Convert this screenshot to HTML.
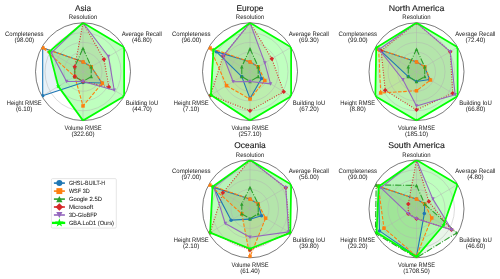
<!DOCTYPE html>
<html><head><meta charset="utf-8"><title>Radar charts</title>
<style>
html,body{margin:0;padding:0;background:#fff;}
body{width:500px;height:279px;overflow:hidden;}
svg{display:block;font-family:"Liberation Sans",sans-serif;}
text{stroke:none;text-rendering:geometricPrecision;}
.ttl{stroke:#000;stroke-width:0.1px;}
.lg{stroke:#000;stroke-width:0.04px;}
.wrap{will-change:transform;}
</style></head>
<body>
<div class="wrap"><svg width="500" height="279" viewBox="0 0 500 279">
<defs><filter id="tb" x="-10%" y="-30%" width="120%" height="160%"><feGaussianBlur stdDeviation="0.25"/></filter></defs>
<rect width="500" height="279" fill="#fff"/>
<clipPath id="c1"><ellipse cx="83" cy="71.7" rx="47.5" ry="48.9"/></clipPath>
<ellipse cx="83" cy="71.7" rx="47.5" ry="48.9" fill="#fff"/>
<g clip-path="url(#c1)">
<polygon points="83,61.92 91.23,66.81 101.92,82.95 83,82.46 42.69,95.66 42.69,47.74" fill="#1f77b4" fill-opacity="0.1"/>
<polygon points="83,61.92 91.23,66.81 102.33,83.19 83,105.93 74.77,76.59 42.69,47.74" fill="#ff7f0e" fill-opacity="0.1"/>
<polygon points="83,48.23 91.23,66.81 91.23,76.59 83,81.48 74.77,76.59 74.77,66.81" fill="#2ca02c" fill-opacity="0.1"/>
<polygon points="83,22.8 103.98,59.23 108.92,87.1 83,81.48 74.77,76.59 74.77,66.81" fill="#d62728" fill-opacity="0.1"/>
<polygon points="83,22.8 108.5,56.54 114.26,90.28 83,81.48 66.55,81.48 51.33,52.87" fill="#9467bd" fill-opacity="0.1"/>
<polygon points="83,22.8 124.14,47.25 124.14,96.15 83,120.6 58.32,86.37 49.27,51.65" fill="#00ff00" fill-opacity="0.25"/>
</g>
<g fill="none" stroke="#b0b0b0" stroke-width="0.45"><ellipse cx="83" cy="71.7" rx="9.5" ry="9.78"/><ellipse cx="83" cy="71.7" rx="19" ry="19.56"/><ellipse cx="83" cy="71.7" rx="28.5" ry="29.34"/><ellipse cx="83" cy="71.7" rx="38" ry="39.12"/><line x1="83" y1="71.7" x2="83" y2="22.8"/><line x1="83" y1="71.7" x2="124.14" y2="47.25"/><line x1="83" y1="71.7" x2="124.14" y2="96.15"/><line x1="83" y1="71.7" x2="83" y2="120.6"/><line x1="83" y1="71.7" x2="41.86" y2="96.15"/><line x1="83" y1="71.7" x2="41.86" y2="47.25"/></g>
<ellipse cx="83" cy="71.7" rx="47.5" ry="48.9" fill="none" stroke="#222" stroke-width="0.6"/>
<g clip-path="url(#c1)" stroke-linejoin="round">
<polyline points="83,61.92 91.23,66.81 101.92,82.95 83,82.46 42.69,95.66 42.69,47.74 83,61.92" fill="none" stroke="#1f77b4" stroke-width="1.1" stroke-linecap="square"/>
<circle cx="83" cy="61.92" r="1.75" fill="#1f77b4"/>
<circle cx="91.23" cy="66.81" r="1.75" fill="#1f77b4"/>
<circle cx="101.92" cy="82.95" r="1.75" fill="#1f77b4"/>
<circle cx="83" cy="82.46" r="1.75" fill="#1f77b4"/>
<circle cx="42.69" cy="95.66" r="1.75" fill="#1f77b4"/>
<circle cx="42.69" cy="47.74" r="1.75" fill="#1f77b4"/>
<polyline points="83,61.92 91.23,66.81 102.33,83.19 83,105.93 74.77,76.59 42.69,47.74 83,61.92" fill="none" stroke="#ff7f0e" stroke-width="1.1" stroke-dasharray="3.59 1.55"/>
<rect x="81.25" y="60.17" width="3.5" height="3.5" fill="#ff7f0e"/>
<rect x="89.48" y="65.06" width="3.5" height="3.5" fill="#ff7f0e"/>
<rect x="100.58" y="81.44" width="3.5" height="3.5" fill="#ff7f0e"/>
<rect x="81.25" y="104.18" width="3.5" height="3.5" fill="#ff7f0e"/>
<rect x="73.02" y="74.84" width="3.5" height="3.5" fill="#ff7f0e"/>
<rect x="40.94" y="45.99" width="3.5" height="3.5" fill="#ff7f0e"/>
<polyline points="83,48.23 91.23,66.81 91.23,76.59 83,81.48 74.77,76.59 74.77,66.81 83,48.23" fill="none" stroke="#2ca02c" stroke-width="1.1" stroke-dasharray="6.21 1.55 0.97 1.55"/>
<polygon points="83,46.48 84.75,49.98 81.25,49.98" fill="#2ca02c"/>
<polygon points="91.23,65.06 92.98,68.56 89.48,68.56" fill="#2ca02c"/>
<polygon points="91.23,74.84 92.98,78.34 89.48,78.34" fill="#2ca02c"/>
<polygon points="83,79.73 84.75,83.23 81.25,83.23" fill="#2ca02c"/>
<polygon points="74.77,74.84 76.52,78.34 73.02,78.34" fill="#2ca02c"/>
<polygon points="74.77,65.06 76.52,68.56 73.02,68.56" fill="#2ca02c"/>
<polyline points="83,22.8 103.98,59.23 108.92,87.1 83,81.48 74.77,76.59 74.77,66.81 83,22.8" fill="none" stroke="#d62728" stroke-width="1.1" stroke-dasharray="0.97 1.60"/>
<polygon points="83,20.53 85.28,22.8 83,25.08 80.72,22.8" fill="#d62728"/>
<polygon points="103.98,56.96 106.25,59.23 103.98,61.51 101.7,59.23" fill="#d62728"/>
<polygon points="108.92,84.83 111.19,87.1 108.92,89.38 106.64,87.1" fill="#d62728"/>
<polygon points="83,79.2 85.28,81.48 83,83.76 80.72,81.48" fill="#d62728"/>
<polygon points="74.77,74.31 77.05,76.59 74.77,78.87 72.5,76.59" fill="#d62728"/>
<polygon points="74.77,64.53 77.05,66.81 74.77,69.09 72.5,66.81" fill="#d62728"/>
<polyline points="83,22.8 108.5,56.54 114.26,90.28 83,81.48 66.55,81.48 51.33,52.87 83,22.8" fill="none" stroke="#9467bd" stroke-width="1.1" stroke-linecap="square"/>
<polygon points="83,24.55 84.75,21.05 81.25,21.05" fill="#9467bd"/>
<polygon points="108.5,58.29 110.25,54.79 106.75,54.79" fill="#9467bd"/>
<polygon points="114.26,92.03 116.01,88.53 112.51,88.53" fill="#9467bd"/>
<polygon points="83,83.23 84.75,79.73 81.25,79.73" fill="#9467bd"/>
<polygon points="66.55,83.23 68.3,79.73 64.8,79.73" fill="#9467bd"/>
<polygon points="51.33,54.62 53.08,51.12 49.58,51.12" fill="#9467bd"/>
<polyline points="83,22.8 124.14,47.25 124.14,96.15 83,120.6 58.32,86.37 49.27,51.65 83,22.8" fill="none" stroke="#00ff00" stroke-width="1.75" stroke-linecap="square"/>
<polygon points="83,20.3 82.44,22.03 80.62,22.03 82.09,23.1 81.53,24.82 83,23.75 84.47,24.82 83.91,23.1 85.38,22.03 83.56,22.03" fill="#00ff00"/>
<polygon points="124.14,44.75 123.57,46.48 121.76,46.48 123.23,47.55 122.67,49.27 124.14,48.2 125.61,49.27 125.04,47.55 126.51,46.48 124.7,46.48" fill="#00ff00"/>
<polygon points="124.14,93.65 123.57,95.38 121.76,95.38 123.23,96.45 122.67,98.17 124.14,97.1 125.61,98.17 125.04,96.45 126.51,95.38 124.7,95.38" fill="#00ff00"/>
<polygon points="83,118.1 82.44,119.83 80.62,119.83 82.09,120.9 81.53,122.62 83,121.55 84.47,122.62 83.91,120.9 85.38,119.83 83.56,119.83" fill="#00ff00"/>
<polygon points="58.32,83.87 57.76,85.6 55.94,85.6 57.41,86.67 56.85,88.39 58.32,87.32 59.79,88.39 59.23,86.67 60.7,85.6 58.88,85.6" fill="#00ff00"/>
<polygon points="49.27,49.15 48.71,50.88 46.89,50.88 48.36,51.95 47.8,53.67 49.27,52.61 50.74,53.67 50.18,51.95 51.65,50.88 49.83,50.88" fill="#00ff00"/>
</g>
<text filter="url(#tb)" x="83" y="19.3" font-size="6.4" text-anchor="middle" textLength="28.32" lengthAdjust="spacingAndGlyphs" fill="#1a1a1a">Resolution</text>
<text filter="url(#tb)" x="141.85" y="35.75" font-size="6.4" text-anchor="middle" textLength="40.15" lengthAdjust="spacingAndGlyphs" fill="#1a1a1a">Average Recall</text>
<text filter="url(#tb)" x="141.85" y="41.9" font-size="6.4" text-anchor="middle" textLength="19.75" lengthAdjust="spacingAndGlyphs" fill="#1a1a1a">(46.80)</text>
<text filter="url(#tb)" x="142" y="104.75" font-size="6.4" text-anchor="middle" textLength="32.59" lengthAdjust="spacingAndGlyphs" fill="#1a1a1a">Building IoU</text>
<text filter="url(#tb)" x="142" y="110.85" font-size="6.4" text-anchor="middle" textLength="19.75" lengthAdjust="spacingAndGlyphs" fill="#1a1a1a">(44.70)</text>
<text filter="url(#tb)" x="83" y="129.6" font-size="6.4" text-anchor="middle" textLength="37.19" lengthAdjust="spacingAndGlyphs" fill="#1a1a1a">Volume RMSE</text>
<text filter="url(#tb)" x="83" y="135.8" font-size="6.4" text-anchor="middle" textLength="23.19" lengthAdjust="spacingAndGlyphs" fill="#1a1a1a">(322.60)</text>
<text filter="url(#tb)" x="24.2" y="104.75" font-size="6.4" text-anchor="middle" textLength="34.95" lengthAdjust="spacingAndGlyphs" fill="#1a1a1a">Height RMSE</text>
<text filter="url(#tb)" x="24.2" y="110.85" font-size="6.4" text-anchor="middle" textLength="16.3" lengthAdjust="spacingAndGlyphs" fill="#1a1a1a">(6.10)</text>
<text filter="url(#tb)" x="24.3" y="35.75" font-size="6.4" text-anchor="middle" textLength="38.54" lengthAdjust="spacingAndGlyphs" fill="#1a1a1a">Completeness</text>
<text filter="url(#tb)" x="24.3" y="41.9" font-size="6.4" text-anchor="middle" textLength="19.75" lengthAdjust="spacingAndGlyphs" fill="#1a1a1a">(98.00)</text>
<text class="ttl" filter="url(#tb)" x="83" y="11.2" font-size="8.4" text-anchor="middle" textLength="16.14" lengthAdjust="spacingAndGlyphs" fill="#1a1a1a">Asia</text>
<clipPath id="c2"><ellipse cx="250" cy="71.7" rx="47.5" ry="48.9"/></clipPath>
<ellipse cx="250" cy="71.7" rx="47.5" ry="48.9" fill="#fff"/>
<g clip-path="url(#c2)">
<polygon points="250,61.92 258.23,66.81 261.52,78.55 250,98.59 241.77,76.59 216.27,51.65" fill="#1f77b4" fill-opacity="0.1"/>
<polygon points="250,61.92 258.23,66.81 264.81,80.5 250,99.08 226.55,85.64 210.1,47.98" fill="#ff7f0e" fill-opacity="0.1"/>
<polygon points="250,48.72 258.23,66.81 258.23,76.59 250,81.48 241.77,76.59 241.77,66.81" fill="#2ca02c" fill-opacity="0.1"/>
<polygon points="250,22.8 271.8,58.74 283.73,91.75 250,110.82 210.51,95.17 223.26,55.81" fill="#d62728" fill-opacity="0.1"/>
<polygon points="250,22.8 264.81,62.9 270.57,83.92 250,81.48 233.13,81.72 223.26,55.81" fill="#9467bd" fill-opacity="0.1"/>
<polygon points="250,22.8 291.14,47.25 291.14,96.15 250,120.6 210.92,94.93 213.39,49.94" fill="#00ff00" fill-opacity="0.25"/>
</g>
<g fill="none" stroke="#b0b0b0" stroke-width="0.45"><ellipse cx="250" cy="71.7" rx="9.5" ry="9.78"/><ellipse cx="250" cy="71.7" rx="19" ry="19.56"/><ellipse cx="250" cy="71.7" rx="28.5" ry="29.34"/><ellipse cx="250" cy="71.7" rx="38" ry="39.12"/><line x1="250" y1="71.7" x2="250" y2="22.8"/><line x1="250" y1="71.7" x2="291.14" y2="47.25"/><line x1="250" y1="71.7" x2="291.14" y2="96.15"/><line x1="250" y1="71.7" x2="250" y2="120.6"/><line x1="250" y1="71.7" x2="208.86" y2="96.15"/><line x1="250" y1="71.7" x2="208.86" y2="47.25"/></g>
<ellipse cx="250" cy="71.7" rx="47.5" ry="48.9" fill="none" stroke="#222" stroke-width="0.6"/>
<g clip-path="url(#c2)" stroke-linejoin="round">
<polyline points="250,61.92 258.23,66.81 261.52,78.55 250,98.59 241.77,76.59 216.27,51.65 250,61.92" fill="none" stroke="#1f77b4" stroke-width="1.1" stroke-linecap="square"/>
<circle cx="250" cy="61.92" r="1.75" fill="#1f77b4"/>
<circle cx="258.23" cy="66.81" r="1.75" fill="#1f77b4"/>
<circle cx="261.52" cy="78.55" r="1.75" fill="#1f77b4"/>
<circle cx="250" cy="98.59" r="1.75" fill="#1f77b4"/>
<circle cx="241.77" cy="76.59" r="1.75" fill="#1f77b4"/>
<circle cx="216.27" cy="51.65" r="1.75" fill="#1f77b4"/>
<polyline points="250,61.92 258.23,66.81 264.81,80.5 250,99.08 226.55,85.64 210.1,47.98 250,61.92" fill="none" stroke="#ff7f0e" stroke-width="1.1" stroke-dasharray="3.59 1.55"/>
<rect x="248.25" y="60.17" width="3.5" height="3.5" fill="#ff7f0e"/>
<rect x="256.48" y="65.06" width="3.5" height="3.5" fill="#ff7f0e"/>
<rect x="263.06" y="78.75" width="3.5" height="3.5" fill="#ff7f0e"/>
<rect x="248.25" y="97.33" width="3.5" height="3.5" fill="#ff7f0e"/>
<rect x="224.8" y="83.89" width="3.5" height="3.5" fill="#ff7f0e"/>
<rect x="208.35" y="46.23" width="3.5" height="3.5" fill="#ff7f0e"/>
<polyline points="250,48.72 258.23,66.81 258.23,76.59 250,81.48 241.77,76.59 241.77,66.81 250,48.72" fill="none" stroke="#2ca02c" stroke-width="1.1" stroke-dasharray="6.21 1.55 0.97 1.55"/>
<polygon points="250,46.97 251.75,50.47 248.25,50.47" fill="#2ca02c"/>
<polygon points="258.23,65.06 259.98,68.56 256.48,68.56" fill="#2ca02c"/>
<polygon points="258.23,74.84 259.98,78.34 256.48,78.34" fill="#2ca02c"/>
<polygon points="250,79.73 251.75,83.23 248.25,83.23" fill="#2ca02c"/>
<polygon points="241.77,74.84 243.52,78.34 240.02,78.34" fill="#2ca02c"/>
<polygon points="241.77,65.06 243.52,68.56 240.02,68.56" fill="#2ca02c"/>
<polyline points="250,22.8 271.8,58.74 283.73,91.75 250,110.82 210.51,95.17 223.26,55.81 250,22.8" fill="none" stroke="#d62728" stroke-width="1.1" stroke-dasharray="0.97 1.60"/>
<polygon points="250,20.53 252.28,22.8 250,25.08 247.72,22.8" fill="#d62728"/>
<polygon points="271.8,56.47 274.08,58.74 271.8,61.02 269.53,58.74" fill="#d62728"/>
<polygon points="283.73,89.47 286.01,91.75 283.73,94.02 281.46,91.75" fill="#d62728"/>
<polygon points="250,108.55 252.28,110.82 250,113.1 247.72,110.82" fill="#d62728"/>
<polygon points="210.51,92.9 212.78,95.17 210.51,97.45 208.23,95.17" fill="#d62728"/>
<polygon points="223.26,53.53 225.54,55.81 223.26,58.08 220.99,55.81" fill="#d62728"/>
<polyline points="250,22.8 264.81,62.9 270.57,83.92 250,81.48 233.13,81.72 223.26,55.81 250,22.8" fill="none" stroke="#9467bd" stroke-width="1.1" stroke-linecap="square"/>
<polygon points="250,24.55 251.75,21.05 248.25,21.05" fill="#9467bd"/>
<polygon points="264.81,64.65 266.56,61.15 263.06,61.15" fill="#9467bd"/>
<polygon points="270.57,85.67 272.32,82.17 268.82,82.17" fill="#9467bd"/>
<polygon points="250,83.23 251.75,79.73 248.25,79.73" fill="#9467bd"/>
<polygon points="233.13,83.47 234.88,79.97 231.38,79.97" fill="#9467bd"/>
<polygon points="223.26,57.56 225.01,54.06 221.51,54.06" fill="#9467bd"/>
<polyline points="250,22.8 291.14,47.25 291.14,96.15 250,120.6 210.92,94.93 213.39,49.94 250,22.8" fill="none" stroke="#00ff00" stroke-width="1.75" stroke-linecap="square"/>
<polygon points="250,20.3 249.44,22.03 247.62,22.03 249.09,23.1 248.53,24.82 250,23.75 251.47,24.82 250.91,23.1 252.38,22.03 250.56,22.03" fill="#00ff00"/>
<polygon points="291.14,44.75 290.57,46.48 288.76,46.48 290.23,47.55 289.67,49.27 291.14,48.2 292.61,49.27 292.04,47.55 293.51,46.48 291.7,46.48" fill="#00ff00"/>
<polygon points="291.14,93.65 290.57,95.38 288.76,95.38 290.23,96.45 289.67,98.17 291.14,97.1 292.61,98.17 292.04,96.45 293.51,95.38 291.7,95.38" fill="#00ff00"/>
<polygon points="250,118.1 249.44,119.83 247.62,119.83 249.09,120.9 248.53,122.62 250,121.55 251.47,122.62 250.91,120.9 252.38,119.83 250.56,119.83" fill="#00ff00"/>
<polygon points="210.92,92.43 210.36,94.15 208.54,94.15 210.01,95.22 209.45,96.95 210.92,95.88 212.39,96.95 211.83,95.22 213.3,94.15 211.48,94.15" fill="#00ff00"/>
<polygon points="213.39,47.44 212.83,49.17 211.01,49.17 212.48,50.23 211.92,51.96 213.39,50.89 214.86,51.96 214.3,50.23 215.77,49.17 213.95,49.17" fill="#00ff00"/>
</g>
<text filter="url(#tb)" x="250" y="19.3" font-size="6.4" text-anchor="middle" textLength="28.32" lengthAdjust="spacingAndGlyphs" fill="#1a1a1a">Resolution</text>
<text filter="url(#tb)" x="308.85" y="35.75" font-size="6.4" text-anchor="middle" textLength="40.15" lengthAdjust="spacingAndGlyphs" fill="#1a1a1a">Average Recall</text>
<text filter="url(#tb)" x="308.85" y="41.9" font-size="6.4" text-anchor="middle" textLength="19.75" lengthAdjust="spacingAndGlyphs" fill="#1a1a1a">(69.30)</text>
<text filter="url(#tb)" x="309" y="104.75" font-size="6.4" text-anchor="middle" textLength="32.59" lengthAdjust="spacingAndGlyphs" fill="#1a1a1a">Building IoU</text>
<text filter="url(#tb)" x="309" y="110.85" font-size="6.4" text-anchor="middle" textLength="19.75" lengthAdjust="spacingAndGlyphs" fill="#1a1a1a">(67.20)</text>
<text filter="url(#tb)" x="250" y="129.6" font-size="6.4" text-anchor="middle" textLength="37.19" lengthAdjust="spacingAndGlyphs" fill="#1a1a1a">Volume RMSE</text>
<text filter="url(#tb)" x="250" y="135.8" font-size="6.4" text-anchor="middle" textLength="23.19" lengthAdjust="spacingAndGlyphs" fill="#1a1a1a">(257.10)</text>
<text filter="url(#tb)" x="191.2" y="104.75" font-size="6.4" text-anchor="middle" textLength="34.95" lengthAdjust="spacingAndGlyphs" fill="#1a1a1a">Height RMSE</text>
<text filter="url(#tb)" x="191.2" y="110.85" font-size="6.4" text-anchor="middle" textLength="16.3" lengthAdjust="spacingAndGlyphs" fill="#1a1a1a">(7.10)</text>
<text filter="url(#tb)" x="191.3" y="35.75" font-size="6.4" text-anchor="middle" textLength="38.54" lengthAdjust="spacingAndGlyphs" fill="#1a1a1a">Completeness</text>
<text filter="url(#tb)" x="191.3" y="41.9" font-size="6.4" text-anchor="middle" textLength="19.75" lengthAdjust="spacingAndGlyphs" fill="#1a1a1a">(96.00)</text>
<text class="ttl" filter="url(#tb)" x="250" y="11.2" font-size="8.4" text-anchor="middle" textLength="27.08" lengthAdjust="spacingAndGlyphs" fill="#1a1a1a">Europe</text>
<clipPath id="c3"><ellipse cx="416.5" cy="71.7" rx="47.5" ry="48.9"/></clipPath>
<ellipse cx="416.5" cy="71.7" rx="47.5" ry="48.9" fill="#fff"/>
<g clip-path="url(#c3)">
<polygon points="416.5,61.92 424.73,66.81 429.66,79.52 416.5,81.48 408.27,76.59 379.48,49.7" fill="#1f77b4" fill-opacity="0.1"/>
<polygon points="416.5,61.92 424.73,66.81 430.49,80.01 416.5,90.77 380.71,92.97 378.65,49.21" fill="#ff7f0e" fill-opacity="0.1"/>
<polygon points="416.5,49.21 424.73,66.81 424.73,76.59 416.5,81.48 408.27,76.59 408.27,66.81" fill="#2ca02c" fill-opacity="0.1"/>
<polygon points="416.5,22.8 450.23,51.65 452.7,93.22 416.5,109.84 385.24,90.28 381.12,50.67" fill="#d62728" fill-opacity="0.1"/>
<polygon points="416.5,22.8 450.23,51.65 455.17,94.68 416.5,105.93 402.93,79.77 379.07,49.45" fill="#9467bd" fill-opacity="0.1"/>
<polygon points="416.5,22.8 457.64,47.25 457.64,96.15 416.5,120.6 375.36,96.15 376.19,47.74" fill="#00ff00" fill-opacity="0.25"/>
</g>
<g fill="none" stroke="#b0b0b0" stroke-width="0.45"><ellipse cx="416.5" cy="71.7" rx="9.5" ry="9.78"/><ellipse cx="416.5" cy="71.7" rx="19" ry="19.56"/><ellipse cx="416.5" cy="71.7" rx="28.5" ry="29.34"/><ellipse cx="416.5" cy="71.7" rx="38" ry="39.12"/><line x1="416.5" y1="71.7" x2="416.5" y2="22.8"/><line x1="416.5" y1="71.7" x2="457.64" y2="47.25"/><line x1="416.5" y1="71.7" x2="457.64" y2="96.15"/><line x1="416.5" y1="71.7" x2="416.5" y2="120.6"/><line x1="416.5" y1="71.7" x2="375.36" y2="96.15"/><line x1="416.5" y1="71.7" x2="375.36" y2="47.25"/></g>
<ellipse cx="416.5" cy="71.7" rx="47.5" ry="48.9" fill="none" stroke="#222" stroke-width="0.6"/>
<g clip-path="url(#c3)" stroke-linejoin="round">
<polyline points="416.5,61.92 424.73,66.81 429.66,79.52 416.5,81.48 408.27,76.59 379.48,49.7 416.5,61.92" fill="none" stroke="#1f77b4" stroke-width="1.1" stroke-linecap="square"/>
<circle cx="416.5" cy="61.92" r="1.75" fill="#1f77b4"/>
<circle cx="424.73" cy="66.81" r="1.75" fill="#1f77b4"/>
<circle cx="429.66" cy="79.52" r="1.75" fill="#1f77b4"/>
<circle cx="416.5" cy="81.48" r="1.75" fill="#1f77b4"/>
<circle cx="408.27" cy="76.59" r="1.75" fill="#1f77b4"/>
<circle cx="379.48" cy="49.7" r="1.75" fill="#1f77b4"/>
<polyline points="416.5,61.92 424.73,66.81 430.49,80.01 416.5,90.77 380.71,92.97 378.65,49.21 416.5,61.92" fill="none" stroke="#ff7f0e" stroke-width="1.1" stroke-dasharray="3.59 1.55"/>
<rect x="414.75" y="60.17" width="3.5" height="3.5" fill="#ff7f0e"/>
<rect x="422.98" y="65.06" width="3.5" height="3.5" fill="#ff7f0e"/>
<rect x="428.74" y="78.26" width="3.5" height="3.5" fill="#ff7f0e"/>
<rect x="414.75" y="89.02" width="3.5" height="3.5" fill="#ff7f0e"/>
<rect x="378.96" y="91.22" width="3.5" height="3.5" fill="#ff7f0e"/>
<rect x="376.9" y="47.46" width="3.5" height="3.5" fill="#ff7f0e"/>
<polyline points="416.5,49.21 424.73,66.81 424.73,76.59 416.5,81.48 408.27,76.59 408.27,66.81 416.5,49.21" fill="none" stroke="#2ca02c" stroke-width="1.1" stroke-dasharray="6.21 1.55 0.97 1.55"/>
<polygon points="416.5,47.46 418.25,50.96 414.75,50.96" fill="#2ca02c"/>
<polygon points="424.73,65.06 426.48,68.56 422.98,68.56" fill="#2ca02c"/>
<polygon points="424.73,74.84 426.48,78.34 422.98,78.34" fill="#2ca02c"/>
<polygon points="416.5,79.73 418.25,83.23 414.75,83.23" fill="#2ca02c"/>
<polygon points="408.27,74.84 410.02,78.34 406.52,78.34" fill="#2ca02c"/>
<polygon points="408.27,65.06 410.02,68.56 406.52,68.56" fill="#2ca02c"/>
<polyline points="416.5,22.8 450.23,51.65 452.7,93.22 416.5,109.84 385.24,90.28 381.12,50.67 416.5,22.8" fill="none" stroke="#d62728" stroke-width="1.1" stroke-dasharray="0.97 1.60"/>
<polygon points="416.5,20.53 418.77,22.8 416.5,25.08 414.23,22.8" fill="#d62728"/>
<polygon points="450.23,49.38 452.51,51.65 450.23,53.93 447.96,51.65" fill="#d62728"/>
<polygon points="452.7,90.94 454.97,93.22 452.7,95.49 450.42,93.22" fill="#d62728"/>
<polygon points="416.5,107.57 418.77,109.84 416.5,112.12 414.23,109.84" fill="#d62728"/>
<polygon points="385.24,88.01 387.51,90.28 385.24,92.56 382.96,90.28" fill="#d62728"/>
<polygon points="381.12,48.4 383.4,50.67 381.12,52.95 378.85,50.67" fill="#d62728"/>
<polyline points="416.5,22.8 450.23,51.65 455.17,94.68 416.5,105.93 402.93,79.77 379.07,49.45 416.5,22.8" fill="none" stroke="#9467bd" stroke-width="1.1" stroke-linecap="square"/>
<polygon points="416.5,24.55 418.25,21.05 414.75,21.05" fill="#9467bd"/>
<polygon points="450.23,53.4 451.98,49.9 448.48,49.9" fill="#9467bd"/>
<polygon points="455.17,96.43 456.92,92.93 453.42,92.93" fill="#9467bd"/>
<polygon points="416.5,107.68 418.25,104.18 414.75,104.18" fill="#9467bd"/>
<polygon points="402.93,81.52 404.68,78.02 401.18,78.02" fill="#9467bd"/>
<polygon points="379.07,51.2 380.82,47.7 377.32,47.7" fill="#9467bd"/>
<polyline points="416.5,22.8 457.64,47.25 457.64,96.15 416.5,120.6 375.36,96.15 376.19,47.74 416.5,22.8" fill="none" stroke="#00ff00" stroke-width="1.75" stroke-linecap="square"/>
<polygon points="416.5,20.3 415.94,22.03 414.12,22.03 415.59,23.1 415.03,24.82 416.5,23.75 417.97,24.82 417.41,23.1 418.88,22.03 417.06,22.03" fill="#00ff00"/>
<polygon points="457.64,44.75 457.07,46.48 455.26,46.48 456.73,47.55 456.17,49.27 457.64,48.2 459.11,49.27 458.54,47.55 460.01,46.48 458.2,46.48" fill="#00ff00"/>
<polygon points="457.64,93.65 457.07,95.38 455.26,95.38 456.73,96.45 456.17,98.17 457.64,97.1 459.11,98.17 458.54,96.45 460.01,95.38 458.2,95.38" fill="#00ff00"/>
<polygon points="416.5,118.1 415.94,119.83 414.12,119.83 415.59,120.9 415.03,122.62 416.5,121.55 417.97,122.62 417.41,120.9 418.88,119.83 417.06,119.83" fill="#00ff00"/>
<polygon points="375.36,93.65 374.8,95.38 372.99,95.38 374.46,96.45 373.89,98.17 375.36,97.1 376.83,98.17 376.27,96.45 377.74,95.38 375.93,95.38" fill="#00ff00"/>
<polygon points="376.19,45.24 375.63,46.97 373.81,46.97 375.28,48.03 374.72,49.76 376.19,48.69 377.66,49.76 377.09,48.03 378.56,46.97 376.75,46.97" fill="#00ff00"/>
</g>
<text filter="url(#tb)" x="416.5" y="19.3" font-size="6.4" text-anchor="middle" textLength="28.32" lengthAdjust="spacingAndGlyphs" fill="#1a1a1a">Resolution</text>
<text filter="url(#tb)" x="475.35" y="35.75" font-size="6.4" text-anchor="middle" textLength="40.15" lengthAdjust="spacingAndGlyphs" fill="#1a1a1a">Average Recall</text>
<text filter="url(#tb)" x="475.35" y="41.9" font-size="6.4" text-anchor="middle" textLength="19.75" lengthAdjust="spacingAndGlyphs" fill="#1a1a1a">(72.40)</text>
<text filter="url(#tb)" x="475.5" y="104.75" font-size="6.4" text-anchor="middle" textLength="32.59" lengthAdjust="spacingAndGlyphs" fill="#1a1a1a">Building IoU</text>
<text filter="url(#tb)" x="475.5" y="110.85" font-size="6.4" text-anchor="middle" textLength="19.75" lengthAdjust="spacingAndGlyphs" fill="#1a1a1a">(66.80)</text>
<text filter="url(#tb)" x="416.5" y="129.6" font-size="6.4" text-anchor="middle" textLength="37.19" lengthAdjust="spacingAndGlyphs" fill="#1a1a1a">Volume RMSE</text>
<text filter="url(#tb)" x="416.5" y="135.8" font-size="6.4" text-anchor="middle" textLength="23.19" lengthAdjust="spacingAndGlyphs" fill="#1a1a1a">(185.10)</text>
<text filter="url(#tb)" x="357.7" y="104.75" font-size="6.4" text-anchor="middle" textLength="34.95" lengthAdjust="spacingAndGlyphs" fill="#1a1a1a">Height RMSE</text>
<text filter="url(#tb)" x="357.7" y="110.85" font-size="6.4" text-anchor="middle" textLength="16.3" lengthAdjust="spacingAndGlyphs" fill="#1a1a1a">(8.80)</text>
<text filter="url(#tb)" x="357.8" y="35.75" font-size="6.4" text-anchor="middle" textLength="38.54" lengthAdjust="spacingAndGlyphs" fill="#1a1a1a">Completeness</text>
<text filter="url(#tb)" x="357.8" y="41.9" font-size="6.4" text-anchor="middle" textLength="19.75" lengthAdjust="spacingAndGlyphs" fill="#1a1a1a">(99.00)</text>
<text class="ttl" filter="url(#tb)" x="416.5" y="11.2" font-size="8.4" text-anchor="middle" textLength="55.75" lengthAdjust="spacingAndGlyphs" fill="#1a1a1a">North America</text>
<clipPath id="c4"><ellipse cx="250" cy="208.9" rx="47.5" ry="48.9"/></clipPath>
<ellipse cx="250" cy="208.9" rx="47.5" ry="48.9" fill="#fff"/>
<g clip-path="url(#c4)">
<polygon points="250,199.12 258.23,204.01 261.52,215.75 250,219.17 231.08,220.15 213.8,187.38" fill="#1f77b4" fill-opacity="0.1"/>
<polygon points="250,199.12 258.23,204.01 265.63,218.19 250,256.82 241.77,213.79 209.85,185.04" fill="#ff7f0e" fill-opacity="0.1"/>
<polygon points="250,187.38 258.23,204.01 258.23,213.79 250,218.68 241.77,213.79 241.77,204.01" fill="#2ca02c" fill-opacity="0.1"/>
<polygon points="250,160 285.79,187.63 289.49,232.37 250,249.98 210.1,232.62 222.85,192.76" fill="#d62728" fill-opacity="0.1"/>
<polygon points="250,160 285.79,187.63 288.67,231.88 250,237.26 225.32,223.57 213.8,187.38" fill="#9467bd" fill-opacity="0.1"/>
<polygon points="250,160 291.14,184.45 290.31,232.86 250,248.75 210.1,232.62 212.57,186.65" fill="#00ff00" fill-opacity="0.25"/>
</g>
<g fill="none" stroke="#b0b0b0" stroke-width="0.45"><ellipse cx="250" cy="208.9" rx="9.5" ry="9.78"/><ellipse cx="250" cy="208.9" rx="19" ry="19.56"/><ellipse cx="250" cy="208.9" rx="28.5" ry="29.34"/><ellipse cx="250" cy="208.9" rx="38" ry="39.12"/><line x1="250" y1="208.9" x2="250" y2="160"/><line x1="250" y1="208.9" x2="291.14" y2="184.45"/><line x1="250" y1="208.9" x2="291.14" y2="233.35"/><line x1="250" y1="208.9" x2="250" y2="257.8"/><line x1="250" y1="208.9" x2="208.86" y2="233.35"/><line x1="250" y1="208.9" x2="208.86" y2="184.45"/></g>
<ellipse cx="250" cy="208.9" rx="47.5" ry="48.9" fill="none" stroke="#222" stroke-width="0.6"/>
<g clip-path="url(#c4)" stroke-linejoin="round">
<polyline points="250,199.12 258.23,204.01 261.52,215.75 250,219.17 231.08,220.15 213.8,187.38 250,199.12" fill="none" stroke="#1f77b4" stroke-width="1.1" stroke-linecap="square"/>
<circle cx="250" cy="199.12" r="1.75" fill="#1f77b4"/>
<circle cx="258.23" cy="204.01" r="1.75" fill="#1f77b4"/>
<circle cx="261.52" cy="215.75" r="1.75" fill="#1f77b4"/>
<circle cx="250" cy="219.17" r="1.75" fill="#1f77b4"/>
<circle cx="231.08" cy="220.15" r="1.75" fill="#1f77b4"/>
<circle cx="213.8" cy="187.38" r="1.75" fill="#1f77b4"/>
<polyline points="250,199.12 258.23,204.01 265.63,218.19 250,256.82 241.77,213.79 209.85,185.04 250,199.12" fill="none" stroke="#ff7f0e" stroke-width="1.1" stroke-dasharray="3.59 1.55"/>
<rect x="248.25" y="197.37" width="3.5" height="3.5" fill="#ff7f0e"/>
<rect x="256.48" y="202.26" width="3.5" height="3.5" fill="#ff7f0e"/>
<rect x="263.88" y="216.44" width="3.5" height="3.5" fill="#ff7f0e"/>
<rect x="248.25" y="255.07" width="3.5" height="3.5" fill="#ff7f0e"/>
<rect x="240.02" y="212.04" width="3.5" height="3.5" fill="#ff7f0e"/>
<rect x="208.1" y="183.29" width="3.5" height="3.5" fill="#ff7f0e"/>
<polyline points="250,187.38 258.23,204.01 258.23,213.79 250,218.68 241.77,213.79 241.77,204.01 250,187.38" fill="none" stroke="#2ca02c" stroke-width="1.1" stroke-dasharray="6.21 1.55 0.97 1.55"/>
<polygon points="250,185.63 251.75,189.13 248.25,189.13" fill="#2ca02c"/>
<polygon points="258.23,202.26 259.98,205.76 256.48,205.76" fill="#2ca02c"/>
<polygon points="258.23,212.04 259.98,215.54 256.48,215.54" fill="#2ca02c"/>
<polygon points="250,216.93 251.75,220.43 248.25,220.43" fill="#2ca02c"/>
<polygon points="241.77,212.04 243.52,215.54 240.02,215.54" fill="#2ca02c"/>
<polygon points="241.77,202.26 243.52,205.76 240.02,205.76" fill="#2ca02c"/>
<polyline points="250,160 285.79,187.63 289.49,232.37 250,249.98 210.1,232.62 222.85,192.76 250,160" fill="none" stroke="#d62728" stroke-width="1.1" stroke-dasharray="0.97 1.60"/>
<polygon points="250,157.72 252.28,160 250,162.28 247.72,160" fill="#d62728"/>
<polygon points="285.79,185.35 288.06,187.63 285.79,189.9 283.51,187.63" fill="#d62728"/>
<polygon points="289.49,230.1 291.77,232.37 289.49,234.65 287.22,232.37" fill="#d62728"/>
<polygon points="250,247.7 252.28,249.98 250,252.25 247.72,249.98" fill="#d62728"/>
<polygon points="210.1,230.34 212.37,232.62 210.1,234.89 207.82,232.62" fill="#d62728"/>
<polygon points="222.85,190.49 225.13,192.76 222.85,195.04 220.58,192.76" fill="#d62728"/>
<polyline points="250,160 285.79,187.63 288.67,231.88 250,237.26 225.32,223.57 213.8,187.38 250,160" fill="none" stroke="#9467bd" stroke-width="1.1" stroke-linecap="square"/>
<polygon points="250,161.75 251.75,158.25 248.25,158.25" fill="#9467bd"/>
<polygon points="285.79,189.38 287.54,185.88 284.04,185.88" fill="#9467bd"/>
<polygon points="288.67,233.63 290.42,230.13 286.92,230.13" fill="#9467bd"/>
<polygon points="250,239.01 251.75,235.51 248.25,235.51" fill="#9467bd"/>
<polygon points="225.32,225.32 227.07,221.82 223.57,221.82" fill="#9467bd"/>
<polygon points="213.8,189.13 215.55,185.63 212.05,185.63" fill="#9467bd"/>
<polyline points="250,160 291.14,184.45 290.31,232.86 250,248.75 210.1,232.62 212.57,186.65 250,160" fill="none" stroke="#00ff00" stroke-width="1.75" stroke-linecap="square"/>
<polygon points="250,157.5 249.44,159.23 247.62,159.23 249.09,160.3 248.53,162.02 250,160.95 251.47,162.02 250.91,160.3 252.38,159.23 250.56,159.23" fill="#00ff00"/>
<polygon points="291.14,181.95 290.57,183.68 288.76,183.68 290.23,184.75 289.67,186.47 291.14,185.4 292.61,186.47 292.04,184.75 293.51,183.68 291.7,183.68" fill="#00ff00"/>
<polygon points="290.31,230.36 289.75,232.09 287.94,232.09 289.41,233.16 288.84,234.88 290.31,233.82 291.78,234.88 291.22,233.16 292.69,232.09 290.87,232.09" fill="#00ff00"/>
<polygon points="250,246.25 249.44,247.98 247.62,247.98 249.09,249.05 248.53,250.78 250,249.71 251.47,250.78 250.91,249.05 252.38,247.98 250.56,247.98" fill="#00ff00"/>
<polygon points="210.1,230.12 209.54,231.84 207.72,231.84 209.19,232.91 208.63,234.64 210.1,233.57 211.57,234.64 211.01,232.91 212.48,231.84 210.66,231.84" fill="#00ff00"/>
<polygon points="212.57,184.15 212,185.88 210.19,185.88 211.66,186.95 211.1,188.67 212.57,187.61 214.04,188.67 213.47,186.95 214.94,185.88 213.13,185.88" fill="#00ff00"/>
</g>
<text filter="url(#tb)" x="250" y="156.5" font-size="6.4" text-anchor="middle" textLength="28.32" lengthAdjust="spacingAndGlyphs" fill="#1a1a1a">Resolution</text>
<text filter="url(#tb)" x="308.85" y="172.95" font-size="6.4" text-anchor="middle" textLength="40.15" lengthAdjust="spacingAndGlyphs" fill="#1a1a1a">Average Recall</text>
<text filter="url(#tb)" x="308.85" y="179.1" font-size="6.4" text-anchor="middle" textLength="19.75" lengthAdjust="spacingAndGlyphs" fill="#1a1a1a">(56.00)</text>
<text filter="url(#tb)" x="309" y="241.95" font-size="6.4" text-anchor="middle" textLength="32.59" lengthAdjust="spacingAndGlyphs" fill="#1a1a1a">Building IoU</text>
<text filter="url(#tb)" x="309" y="248.05" font-size="6.4" text-anchor="middle" textLength="19.75" lengthAdjust="spacingAndGlyphs" fill="#1a1a1a">(39.80)</text>
<text filter="url(#tb)" x="250" y="266.8" font-size="6.4" text-anchor="middle" textLength="37.19" lengthAdjust="spacingAndGlyphs" fill="#1a1a1a">Volume RMSE</text>
<text filter="url(#tb)" x="250" y="273" font-size="6.4" text-anchor="middle" textLength="19.75" lengthAdjust="spacingAndGlyphs" fill="#1a1a1a">(61.40)</text>
<text filter="url(#tb)" x="191.2" y="241.95" font-size="6.4" text-anchor="middle" textLength="34.95" lengthAdjust="spacingAndGlyphs" fill="#1a1a1a">Height RMSE</text>
<text filter="url(#tb)" x="191.2" y="248.05" font-size="6.4" text-anchor="middle" textLength="16.3" lengthAdjust="spacingAndGlyphs" fill="#1a1a1a">(2.10)</text>
<text filter="url(#tb)" x="191.3" y="172.95" font-size="6.4" text-anchor="middle" textLength="38.54" lengthAdjust="spacingAndGlyphs" fill="#1a1a1a">Completeness</text>
<text filter="url(#tb)" x="191.3" y="179.1" font-size="6.4" text-anchor="middle" textLength="19.75" lengthAdjust="spacingAndGlyphs" fill="#1a1a1a">(97.00)</text>
<text class="ttl" filter="url(#tb)" x="250" y="148.4" font-size="8.4" text-anchor="middle" textLength="31.49" lengthAdjust="spacingAndGlyphs" fill="#1a1a1a">Oceania</text>
<clipPath id="c5"><ellipse cx="416.5" cy="208.9" rx="47.5" ry="48.9"/></clipPath>
<ellipse cx="416.5" cy="208.9" rx="47.5" ry="48.9" fill="#fff"/>
<g clip-path="url(#c5)">
<polygon points="416.5,199.12 424.73,204.01 424.32,213.55 416.5,256.33 379.48,230.91 378.65,186.41" fill="#1f77b4" fill-opacity="0.1"/>
<polygon points="416.5,199.12 424.73,204.01 431.72,217.95 416.5,256.33 384,228.22 378.24,186.16" fill="#ff7f0e" fill-opacity="0.1"/>
<polygon points="416.5,185.43 424.73,204.01 456.81,232.86 416.5,257.8 375.36,233.35 376.19,184.94" fill="#2ca02c" fill-opacity="0.1"/>
<polygon points="416.5,160 428.84,201.56 451.47,229.68 416.5,218.68 408.27,213.79 408.27,204.01" fill="#d62728" fill-opacity="0.1"/>
<polygon points="416.5,160 432.95,199.12 451.88,229.93 416.5,218.68 408.27,213.79 380.71,187.63" fill="#9467bd" fill-opacity="0.1"/>
<polygon points="416.5,160 457.64,184.45 443.65,225.04 416.5,256.82 376.6,232.62 378.65,186.41" fill="#00ff00" fill-opacity="0.25"/>
</g>
<g fill="none" stroke="#b0b0b0" stroke-width="0.45"><ellipse cx="416.5" cy="208.9" rx="9.5" ry="9.78"/><ellipse cx="416.5" cy="208.9" rx="19" ry="19.56"/><ellipse cx="416.5" cy="208.9" rx="28.5" ry="29.34"/><ellipse cx="416.5" cy="208.9" rx="38" ry="39.12"/><line x1="416.5" y1="208.9" x2="416.5" y2="160"/><line x1="416.5" y1="208.9" x2="457.64" y2="184.45"/><line x1="416.5" y1="208.9" x2="457.64" y2="233.35"/><line x1="416.5" y1="208.9" x2="416.5" y2="257.8"/><line x1="416.5" y1="208.9" x2="375.36" y2="233.35"/><line x1="416.5" y1="208.9" x2="375.36" y2="184.45"/></g>
<ellipse cx="416.5" cy="208.9" rx="47.5" ry="48.9" fill="none" stroke="#222" stroke-width="0.6"/>
<g clip-path="url(#c5)" stroke-linejoin="round">
<polyline points="416.5,199.12 424.73,204.01 424.32,213.55 416.5,256.33 379.48,230.91 378.65,186.41 416.5,199.12" fill="none" stroke="#1f77b4" stroke-width="1.1" stroke-linecap="square"/>
<circle cx="416.5" cy="199.12" r="1.75" fill="#1f77b4"/>
<circle cx="424.73" cy="204.01" r="1.75" fill="#1f77b4"/>
<circle cx="424.32" cy="213.55" r="1.75" fill="#1f77b4"/>
<circle cx="416.5" cy="256.33" r="1.75" fill="#1f77b4"/>
<circle cx="379.48" cy="230.91" r="1.75" fill="#1f77b4"/>
<circle cx="378.65" cy="186.41" r="1.75" fill="#1f77b4"/>
<polyline points="416.5,199.12 424.73,204.01 431.72,217.95 416.5,256.33 384,228.22 378.24,186.16 416.5,199.12" fill="none" stroke="#ff7f0e" stroke-width="1.1" stroke-dasharray="3.59 1.55"/>
<rect x="414.75" y="197.37" width="3.5" height="3.5" fill="#ff7f0e"/>
<rect x="422.98" y="202.26" width="3.5" height="3.5" fill="#ff7f0e"/>
<rect x="429.97" y="216.2" width="3.5" height="3.5" fill="#ff7f0e"/>
<rect x="414.75" y="254.58" width="3.5" height="3.5" fill="#ff7f0e"/>
<rect x="382.25" y="226.47" width="3.5" height="3.5" fill="#ff7f0e"/>
<rect x="376.49" y="184.41" width="3.5" height="3.5" fill="#ff7f0e"/>
<polyline points="416.5,185.43 424.73,204.01 456.81,232.86 416.5,257.8 375.36,233.35 376.19,184.94 416.5,185.43" fill="none" stroke="#2ca02c" stroke-width="1.1" stroke-dasharray="6.21 1.55 0.97 1.55"/>
<polygon points="416.5,183.68 418.25,187.18 414.75,187.18" fill="#2ca02c"/>
<polygon points="424.73,202.26 426.48,205.76 422.98,205.76" fill="#2ca02c"/>
<polygon points="456.81,231.11 458.56,234.61 455.06,234.61" fill="#2ca02c"/>
<polygon points="416.5,256.05 418.25,259.55 414.75,259.55" fill="#2ca02c"/>
<polygon points="375.36,231.6 377.11,235.1 373.61,235.1" fill="#2ca02c"/>
<polygon points="376.19,183.19 377.94,186.69 374.44,186.69" fill="#2ca02c"/>
<polyline points="416.5,160 428.84,201.56 451.47,229.68 416.5,218.68 408.27,213.79 408.27,204.01 416.5,160" fill="none" stroke="#d62728" stroke-width="1.1" stroke-dasharray="0.97 1.60"/>
<polygon points="416.5,157.72 418.77,160 416.5,162.28 414.23,160" fill="#d62728"/>
<polygon points="428.84,199.29 431.12,201.56 428.84,203.84 426.57,201.56" fill="#d62728"/>
<polygon points="451.47,227.41 453.74,229.68 451.47,231.96 449.19,229.68" fill="#d62728"/>
<polygon points="416.5,216.41 418.77,218.68 416.5,220.96 414.23,218.68" fill="#d62728"/>
<polygon points="408.27,211.51 410.55,213.79 408.27,216.06 406,213.79" fill="#d62728"/>
<polygon points="408.27,201.73 410.55,204.01 408.27,206.28 406,204.01" fill="#d62728"/>
<polyline points="416.5,160 432.95,199.12 451.88,229.93 416.5,218.68 408.27,213.79 380.71,187.63 416.5,160" fill="none" stroke="#9467bd" stroke-width="1.1" stroke-linecap="square"/>
<polygon points="416.5,161.75 418.25,158.25 414.75,158.25" fill="#9467bd"/>
<polygon points="432.95,200.87 434.7,197.37 431.2,197.37" fill="#9467bd"/>
<polygon points="451.88,231.68 453.63,228.18 450.13,228.18" fill="#9467bd"/>
<polygon points="416.5,220.43 418.25,216.93 414.75,216.93" fill="#9467bd"/>
<polygon points="408.27,215.54 410.02,212.04 406.52,212.04" fill="#9467bd"/>
<polygon points="380.71,189.38 382.46,185.88 378.96,185.88" fill="#9467bd"/>
<polyline points="416.5,160 457.64,184.45 443.65,225.04 416.5,256.82 376.6,232.62 378.65,186.41 416.5,160" fill="none" stroke="#00ff00" stroke-width="1.75" stroke-linecap="square"/>
<polygon points="416.5,157.5 415.94,159.23 414.12,159.23 415.59,160.3 415.03,162.02 416.5,160.95 417.97,162.02 417.41,160.3 418.88,159.23 417.06,159.23" fill="#00ff00"/>
<polygon points="457.64,181.95 457.07,183.68 455.26,183.68 456.73,184.75 456.17,186.47 457.64,185.4 459.11,186.47 458.54,184.75 460.01,183.68 458.2,183.68" fill="#00ff00"/>
<polygon points="443.65,222.54 443.09,224.26 441.27,224.26 442.74,225.33 442.18,227.06 443.65,225.99 445.12,227.06 444.56,225.33 446.03,224.26 444.21,224.26" fill="#00ff00"/>
<polygon points="416.5,254.32 415.94,256.05 414.12,256.05 415.59,257.12 415.03,258.84 416.5,257.78 417.97,258.84 417.41,257.12 418.88,256.05 417.06,256.05" fill="#00ff00"/>
<polygon points="376.6,230.12 376.04,231.84 374.22,231.84 375.69,232.91 375.13,234.64 376.6,233.57 378.07,234.64 377.51,232.91 378.98,231.84 377.16,231.84" fill="#00ff00"/>
<polygon points="378.65,183.91 378.09,185.63 376.28,185.63 377.75,186.7 377.19,188.43 378.65,187.36 380.12,188.43 379.56,186.7 381.03,185.63 379.22,185.63" fill="#00ff00"/>
</g>
<text filter="url(#tb)" x="416.5" y="156.5" font-size="6.4" text-anchor="middle" textLength="28.32" lengthAdjust="spacingAndGlyphs" fill="#1a1a1a">Resolution</text>
<text filter="url(#tb)" x="475.35" y="172.95" font-size="6.4" text-anchor="middle" textLength="40.15" lengthAdjust="spacingAndGlyphs" fill="#1a1a1a">Average Recall</text>
<text filter="url(#tb)" x="475.35" y="179.1" font-size="6.4" text-anchor="middle" textLength="16.3" lengthAdjust="spacingAndGlyphs" fill="#1a1a1a">(4.80)</text>
<text filter="url(#tb)" x="475.5" y="241.95" font-size="6.4" text-anchor="middle" textLength="32.59" lengthAdjust="spacingAndGlyphs" fill="#1a1a1a">Building IoU</text>
<text filter="url(#tb)" x="475.5" y="248.05" font-size="6.4" text-anchor="middle" textLength="19.75" lengthAdjust="spacingAndGlyphs" fill="#1a1a1a">(46.60)</text>
<text filter="url(#tb)" x="416.5" y="266.8" font-size="6.4" text-anchor="middle" textLength="37.19" lengthAdjust="spacingAndGlyphs" fill="#1a1a1a">Volume RMSE</text>
<text filter="url(#tb)" x="416.5" y="273" font-size="6.4" text-anchor="middle" textLength="26.64" lengthAdjust="spacingAndGlyphs" fill="#1a1a1a">(1708.50)</text>
<text filter="url(#tb)" x="357.7" y="241.95" font-size="6.4" text-anchor="middle" textLength="34.95" lengthAdjust="spacingAndGlyphs" fill="#1a1a1a">Height RMSE</text>
<text filter="url(#tb)" x="357.7" y="248.05" font-size="6.4" text-anchor="middle" textLength="19.75" lengthAdjust="spacingAndGlyphs" fill="#1a1a1a">(29.20)</text>
<text filter="url(#tb)" x="357.8" y="172.95" font-size="6.4" text-anchor="middle" textLength="38.54" lengthAdjust="spacingAndGlyphs" fill="#1a1a1a">Completeness</text>
<text filter="url(#tb)" x="357.8" y="179.1" font-size="6.4" text-anchor="middle" textLength="19.75" lengthAdjust="spacingAndGlyphs" fill="#1a1a1a">(99.00)</text>
<text class="ttl" filter="url(#tb)" x="416.5" y="148.4" font-size="8.4" text-anchor="middle" textLength="56.59" lengthAdjust="spacingAndGlyphs" fill="#1a1a1a">South America</text>
<rect x="51.4" y="178.6" width="64.9" height="49.5" rx="1.2" fill="#fff" fill-opacity="0.8" stroke="#cccccc" stroke-width="0.5"/>
<line x1="53.9" y1="183.1" x2="64.9" y2="183.1" stroke="#1f77b4" stroke-width="1.6"/>
<circle cx="59.35" cy="183.1" r="3" fill="#1f77b4"/>
<text class="lg" filter="url(#tb)" x="68.9" y="185.35" font-size="6" text-anchor="start" textLength="36.19" lengthAdjust="spacingAndGlyphs" fill="#1a1a1a">GHSL-BUILT-H</text>
<line x1="53.9" y1="191.1" x2="64.9" y2="191.1" stroke="#ff7f0e" stroke-width="1.6"/>
<rect x="56.4" y="188.15" width="5.9" height="5.9" fill="#ff7f0e"/>
<text class="lg" filter="url(#tb)" x="68.9" y="193.35" font-size="6" text-anchor="start" textLength="20.91" lengthAdjust="spacingAndGlyphs" fill="#1a1a1a">WSF 3D</text>
<line x1="53.9" y1="199.1" x2="64.9" y2="199.1" stroke="#2ca02c" stroke-width="1.6"/>
<polygon points="59.35,195.95 62.5,202.25 56.2,202.25" fill="#2ca02c"/>
<text class="lg" filter="url(#tb)" x="68.9" y="201.35" font-size="6" text-anchor="start" textLength="33.07" lengthAdjust="spacingAndGlyphs" fill="#1a1a1a">Google 2.5D</text>
<line x1="53.9" y1="207" x2="64.9" y2="207" stroke="#d62728" stroke-width="1.6"/>
<polygon points="59.35,203.16 63.19,207 59.35,210.84 55.52,207" fill="#d62728"/>
<text class="lg" filter="url(#tb)" x="68.9" y="209.25" font-size="6" text-anchor="start" textLength="24.26" lengthAdjust="spacingAndGlyphs" fill="#1a1a1a">Microsoft</text>
<line x1="53.9" y1="215" x2="64.9" y2="215" stroke="#9467bd" stroke-width="1.6"/>
<polygon points="59.35,218.1 62.45,211.9 56.25,211.9" fill="#9467bd"/>
<text class="lg" filter="url(#tb)" x="68.9" y="217.25" font-size="6" text-anchor="start" textLength="28.42" lengthAdjust="spacingAndGlyphs" fill="#1a1a1a">3D-GloBFP</text>
<line x1="52.0" y1="222.9" x2="65.2" y2="222.9" stroke="#00ff00" stroke-width="2.3"/>
<polygon points="59.35,218.3 58.32,221.48 54.98,221.48 57.68,223.44 56.65,226.62 59.35,224.66 62.05,226.62 61.02,223.44 63.72,221.48 60.38,221.48" fill="#00ff00"/>
<text class="lg" filter="url(#tb)" x="68.9" y="225.15" font-size="6" text-anchor="start" textLength="45.06" lengthAdjust="spacingAndGlyphs" fill="#1a1a1a">GBA.LoD1 (Ours)</text>
</svg></div>
</body></html>
